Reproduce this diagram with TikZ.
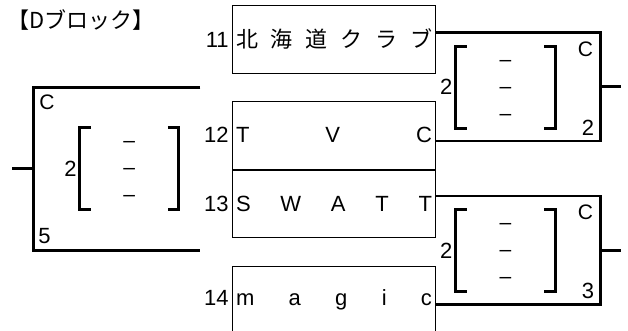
\documentclass[tikz,border=0pt]{standalone}
\usepackage{fontspec}
\setmainfont{Liberation Sans}
\newfontfamily\cjk{Noto Sans CJK JP}
\usetikzlibrary{positioning}

\tikzstyle{team} = [rectangle, draw=black, line width=1pt, minimum width=203.4pt,
minimum height=67.7pt, inner sep=0pt, font=\fontsize{22}{24}\selectfont]
\tikzstyle{num} = [inner sep=0pt, font=\fontsize{22}{24}\selectfont]
\tikzstyle{tag} = [inner sep=0pt, font=\fontsize{21}{24}\selectfont]
\tikzstyle{match} = [rectangle, minimum width=164.3pt, minimum height=108pt, inner sep=0pt]
\tikzstyle{score} = [rectangle, minimum width=99pt, minimum height=82pt, inner sep=0pt]
\tikzstyle{nilscore} = [inner sep=0pt, yshift=-3pt, font=\fontsize{21}{24}\selectfont]
\tikzstyle{res} = [line width=2.7pt]
\tikzstyle{sbr} = [line width=3pt]

\newcommand{\spreadname}[1]{\makebox[196pt][s]{#1}}

\begin{document}
\begin{tikzpicture}[x=1pt, y=-1pt]
  \useasboundingbox (0,0) rectangle (628,330);

  \node (title) [anchor=west, inner sep=0pt, font=\cjk\fontsize{22}{24}\selectfont] at (7.5,20) {【Dブロック】};

  % teams
  \node (t11) [team] at (334,39.2) {\cjk\spreadname{北\hfill 海\hfill 道\hfill ク\hfill ラ\hfill ブ}};
  \node (t12) [team, below=27.3pt of t11] {\spreadname{T\hfill V\hfill C}};
  \node (t13) [team, below=0pt of t12] {\spreadname{S\hfill W\hfill A\hfill T\hfill T}};
  \node (t14) [team, below=27.6pt of t13] {\spreadname{m\hfill a\hfill g\hfill i\hfill c}};

  \node (n11) [num, base left=3pt of t11.base west] {11};
  \node (n12) [num, base left=3pt of t12.base west] {12};
  \node (n13) [num, base left=3pt of t13.base west] {13};
  \node (n14) [num, base left=3pt of t14.base west] {14};

  % matches
  \node (m0) [match, minimum width=166.7pt, minimum height=162.7pt] at (116.7,168.7) {};
  \node (m1) [match] at (517.9,86.7) {};
  \node (m2) [match] at (517.9,250.2) {};

  \node (sc0) [score] at (129.2,168.5) {};
  \node (sc1) [score] at (505.5,87.2) {};
  \node (sc2) [score] at (505.5,250.5) {};

  \node (d01) [nilscore] at ([yshift=27pt]sc0.center) {–};
  \node (d02) [nilscore] at (sc0.center) {–};
  \node (d03) [nilscore] at ([yshift=-27pt]sc0.center) {–};
  \node (d11) [nilscore] at ([yshift=27pt]sc1.center) {–};
  \node (d12) [nilscore] at (sc1.center) {–};
  \node (d13) [nilscore] at ([yshift=-27pt]sc1.center) {–};
  \node (d21) [nilscore] at ([yshift=27pt]sc2.center) {–};
  \node (d22) [nilscore] at (sc2.center) {–};
  \node (d23) [nilscore] at ([yshift=-27pt]sc2.center) {–};

  \node (c0) [tag, below right=7.7pt and 6pt of m0.north west] {C};
  \node (s0) [num, above right=6pt and 5pt of m0.south west] {5};
  \node (g0) [num, left=2.7pt of sc0.west] {2};
  \node (c1) [tag, below left=9pt and 7pt of m1.north east] {C};
  \node (s1) [num, above left=5.7pt and 6pt of m1.south east] {2};
  \node (g1) [num, left=3.3pt of sc1.west] {2};
  \node (c2) [tag, below left=9pt and 7pt of m2.north east] {C};
  \node (s2) [num, above left=5.7pt and 6pt of m2.south east] {3};
  \node (g2) [num, left=3.3pt of sc2.west] {2};

  % brackets
  \draw[res] (m0.north east) -- (m0.north west) -- (m0.south west) -- (m0.south east);
  \coordinate (w0) at (12.3,168.7);
  \draw[res] (w0) -- (m0.west);

  \draw[res] (t11.east |- m1.north) -- (m1.north east) -- (m1.south east) -- (t12.east |- m1.south);
  \coordinate (w1) at (620.7,86.7);
  \draw[res] (m1.east) -- (w1);

  \draw[res] (t13.east |- m2.north) -- (m2.north east) -- (m2.south east) -- (t14.east |- m2.south);
  \coordinate (w2) at (620.7,250.2);
  \draw[res] (m2.east) -- (w2);

  % scores
  \draw[sbr] ([xshift=11pt]sc0.north west) -- (sc0.north west) -- (sc0.south west) -- ([xshift=11pt]sc0.south west);
  \draw[sbr] ([xshift=-11pt]sc0.north east) -- (sc0.north east) -- (sc0.south east) -- ([xshift=-11pt]sc0.south east);
  \draw[sbr] ([xshift=11pt]sc1.north west) -- (sc1.north west) -- (sc1.south west) -- ([xshift=11pt]sc1.south west);
  \draw[sbr] ([xshift=-11pt]sc1.north east) -- (sc1.north east) -- (sc1.south east) -- ([xshift=-11pt]sc1.south east);
  \draw[sbr] ([xshift=11pt]sc2.north west) -- (sc2.north west) -- (sc2.south west) -- ([xshift=11pt]sc2.south west);
  \draw[sbr] ([xshift=-11pt]sc2.north east) -- (sc2.north east) -- (sc2.south east) -- ([xshift=-11pt]sc2.south east);

\end{tikzpicture}
\end{document}
